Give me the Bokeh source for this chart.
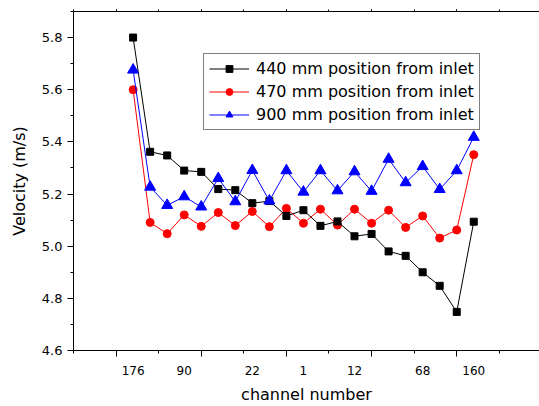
from bokeh.plotting import figure
from bokeh.models import (Range1d, LinearAxis, SingleIntervalTicker, FixedTicker,
                          NumeralTickFormatter, Legend, LegendItem)
from bokeh.embed import file_html
from bokeh.resources import INLINE

# ---- data ----
point_index = list(range(1, 22))
v440 = [5.800, 5.362, 5.348, 5.290, 5.285, 5.219, 5.215, 5.165, 5.173, 5.116, 5.138,
        5.078, 5.095, 5.038, 5.047, 4.980, 4.963, 4.900, 4.848, 4.748, 5.094]
v470 = [5.600, 5.091, 5.048, 5.120, 5.076, 5.129, 5.079, 5.133, 5.075, 5.145, 5.088,
        5.142, 5.081, 5.142, 5.088, 5.138, 5.072, 5.116, 5.031, 5.062, 5.351]
v900 = [5.676, 5.227, 5.157, 5.190, 5.151, 5.260, 5.171, 5.291, 5.174, 5.290, 5.208,
        5.290, 5.213, 5.286, 5.211, 5.334, 5.244, 5.306, 5.218, 5.290, 5.418]
channel_tick_pos = [1, 4, 8, 11, 14, 18, 21]
channel_tick_labels = ["176", "90", "22", "1", "12", "68", "160"]
series_names = ["440 mm position from inlet", "470 mm position from inlet",
                "900 mm position from inlet"]

FONT = "DejaVu Sans"

p = figure(width=539, height=406,
           x_range=Range1d(-2.5, 24.86), y_range=Range1d(4.6, 5.9),
           output_backend="svg", toolbar_location=None,
           min_border_left=73, min_border_right=0, min_border_top=11, min_border_bottom=53)
p.outline_line_color = None
p.xgrid.visible = False
p.ygrid.visible = False
p.background_fill_color = "white"
p.border_fill_color = "white"

# bottom axis: tick marks only
xa = p.xaxis[0]
xa.ticker = SingleIntervalTicker(interval=5, num_minor_ticks=2)
xa.major_label_text_font_size = "0px"
xa.major_label_standoff = 0
xa.major_tick_out = 6
xa.major_tick_in = 0
xa.minor_tick_out = 3
xa.minor_tick_in = 0
xa.axis_line_color = "black"
xa.major_tick_line_color = "black"
xa.minor_tick_line_color = "black"

# second bottom axis: channel numbers under selected points + axis title
lab_axis = LinearAxis(
    ticker=FixedTicker(ticks=channel_tick_pos, minor_ticks=[]),
    major_label_overrides={float(k): v for k, v in zip(channel_tick_pos, channel_tick_labels)},
    axis_line_color=None, major_tick_line_color=None, minor_tick_line_color=None,
    major_tick_out=0, major_tick_in=0, minor_tick_out=0, minor_tick_in=0,
    major_label_standoff=9, major_label_text_font=FONT, major_label_text_font_size="12px",
    major_label_text_color="black",
    axis_label="channel number", axis_label_text_font=FONT,
    axis_label_text_font_size="16px", axis_label_text_font_style="normal",
    axis_label_text_color="black", axis_label_standoff=7)
p.add_layout(lab_axis, "below")

# left axis
ya = p.yaxis[0]
ya.ticker = SingleIntervalTicker(interval=0.2, num_minor_ticks=2)
ya.formatter = NumeralTickFormatter(format="0.0")
ya.major_label_text_font = FONT
ya.major_label_text_font_size = "13px"
ya.major_label_text_color = "black"
ya.major_label_standoff = 5
ya.major_tick_out = 6
ya.major_tick_in = 0
ya.minor_tick_out = 3
ya.minor_tick_in = 0
ya.axis_line_color = "black"
ya.major_tick_line_color = "black"
ya.minor_tick_line_color = "black"
ya.axis_label = "Velocity (m/s)"
ya.axis_label_text_font = FONT
ya.axis_label_text_font_size = "16px"
ya.axis_label_text_font_style = "normal"
ya.axis_label_text_color = "black"
ya.axis_label_standoff = 10

# top axis: line with tiny ticks
top = LinearAxis(ticker=SingleIntervalTicker(interval=5, num_minor_ticks=2),
                 major_label_text_font_size="0px", major_label_standoff=0,
                 major_tick_out=2, major_tick_in=0, minor_tick_out=2, minor_tick_in=0,
                 axis_line_color="black", major_tick_line_color="black",
                 minor_tick_line_color="black")
p.add_layout(top, "above")

# series (red below black below blue)
l470 = p.line(point_index, v470, line_color="red", line_width=1)
m470 = p.scatter(point_index, v470, marker="circle", size=8, fill_color="red", line_color="red")
l440 = p.line(point_index, v440, line_color="black", line_width=1)
m440 = p.scatter(point_index, v440, marker="square", size=7, fill_color="black", line_color="black")
l900 = p.line(point_index, v900, line_color="blue", line_width=1)
m900 = p.scatter(point_index, v900, marker="triangle", size=11, fill_color="blue", line_color="blue")

legend = Legend(items=[
    LegendItem(label=series_names[0], renderers=[l440, m440]),
    LegendItem(label=series_names[1], renderers=[l470, m470]),
    LegendItem(label=series_names[2], renderers=[l900, m900]),
], location=(130, 220))
legend.label_text_font = FONT
legend.label_text_font_size = "16px"
legend.label_text_color = "black"
legend.glyph_width = 40
legend.glyph_height = 17
legend.label_height = 17
legend.label_standoff = 7
legend.spacing = 4
legend.padding = 5
legend.margin = 0
legend.border_line_color = "black"
legend.border_line_width = 1
legend.background_fill_color = "white"
legend.background_fill_alpha = 1
p.add_layout(legend)

open("out.html", "w").write(file_html(p, INLINE))
